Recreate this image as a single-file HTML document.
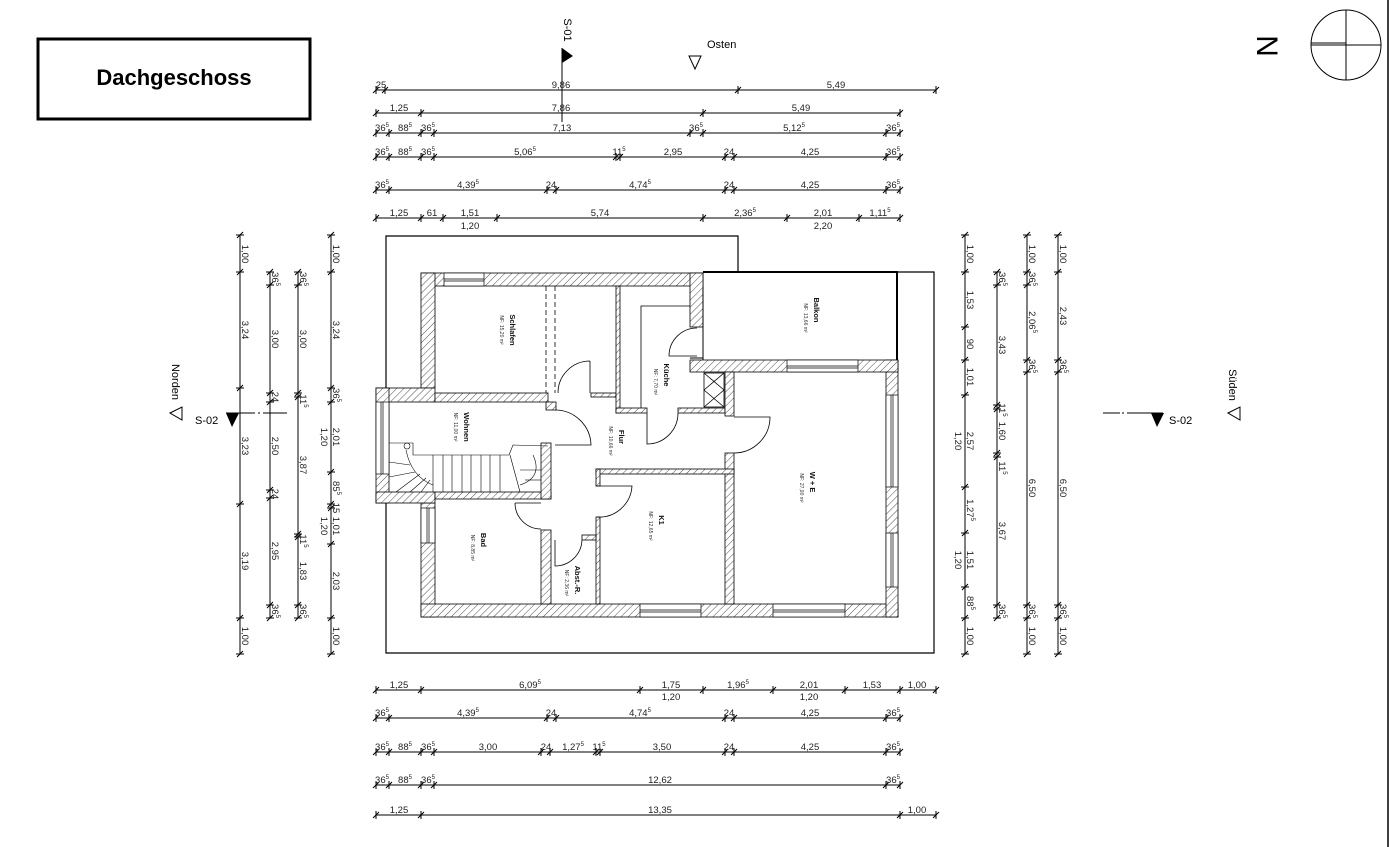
<!DOCTYPE html>
<html><head><meta charset="utf-8"><style>
html,body{margin:0;padding:0;background:#fff;}
svg{display:block;font-family:"Liberation Sans",Arial,sans-serif;}
.d{font-size:9.5px;fill:#222;text-anchor:middle;}
.s{font-size:6px;}
.rn{font-size:7.5px;font-weight:bold;fill:#111;text-anchor:middle;}
.nf{font-size:5px;fill:#333;text-anchor:middle;}
</style></head><body>
<svg width="1393" height="847" viewBox="0 0 1393 847" xmlns="http://www.w3.org/2000/svg">
<defs>
<pattern id="h" width="5" height="5" patternUnits="userSpaceOnUse" patternTransform="rotate(45)">
<rect width="5" height="5" fill="#fff"/><line x1="0" y1="0" x2="0" y2="5" stroke="#222" stroke-width="0.8"/></pattern>
<marker id="mh" markerUnits="userSpaceOnUse" markerWidth="10" markerHeight="10" refX="5" refY="5" orient="0" overflow="visible"><path d="M5,1V9M2,8L8,2" stroke="#000" stroke-width="1" fill="none"/></marker>
<marker id="mv" markerUnits="userSpaceOnUse" markerWidth="10" markerHeight="10" refX="5" refY="5" orient="0" overflow="visible"><path d="M1,5H9M2,8L8,2" stroke="#000" stroke-width="1" fill="none"/></marker>
</defs>
<rect width="1393" height="847" fill="#fff"/>
<line x1="1388" y1="0" x2="1388" y2="847" stroke="#000" stroke-width="1.5"/>

<!-- title -->
<rect x="38" y="39" width="272" height="80" fill="none" stroke="#000" stroke-width="3"/>
<text x="174" y="85" font-size="22" font-weight="bold" text-anchor="middle">Dachgeschoss</text>

<!-- north -->
<circle cx="1346" cy="45" r="35" fill="none" stroke="#000" stroke-width="1"/>
<line x1="1346" y1="10" x2="1346" y2="80" stroke="#000"/>
<line x1="1311" y1="45" x2="1381" y2="45" stroke="#000"/>
<line x1="1311" y1="43" x2="1346" y2="43" stroke="#000"/>
<text transform="translate(1268,46) rotate(90)" font-size="30" text-anchor="middle" y="11">N</text>

<!-- S-01 / Osten -->
<text transform="translate(568,30) rotate(90)" font-size="11" text-anchor="middle" y="4">S-01</text>
<line x1="562" y1="48" x2="562" y2="122" stroke="#000"/>
<polygon points="562,48 573,56 562,63" fill="#000"/>
<text x="707" y="48" font-size="11">Osten</text>
<polygon points="689,56 701,56 695,69" fill="none" stroke="#000"/>

<!-- Norden / S-02 left -->
<text transform="translate(176,382) rotate(90)" font-size="11" text-anchor="middle" y="4">Norden</text>
<polygon points="170,413 182,407 182,420" fill="none" stroke="#000"/>
<text x="195" y="424" font-size="11">S-02</text>
<polygon points="226,413 239,413 232,427" fill="#000"/>
<line x1="226" y1="413" x2="255" y2="413" stroke="#000"/>
<line x1="258" y1="413" x2="260" y2="413" stroke="#000"/>
<line x1="263" y1="413" x2="287" y2="413" stroke="#000"/>

<!-- Süden / S-02 right -->
<text transform="translate(1233,385) rotate(90)" font-size="11" text-anchor="middle" y="4">Süden</text>
<polygon points="1228,413 1240,407 1240,420" fill="none" stroke="#000"/>
<line x1="1103" y1="413" x2="1120" y2="413" stroke="#000"/>
<line x1="1122" y1="413" x2="1124" y2="413" stroke="#000"/>
<line x1="1127" y1="413" x2="1163" y2="413" stroke="#000"/>
<polygon points="1151,413 1164,413 1157,427" fill="#000"/>
<text x="1169" y="424" font-size="11">S-02</text>

<!-- roof outline -->
<polygon points="386,236 738,236 738,272 934,272 934,653 386,653" fill="none" stroke="#000" stroke-width="1.2"/>

<!-- walls -->
<g fill="url(#h)" stroke="#000" stroke-width="0.8">
<rect x="421" y="273" width="282" height="13"/>
<rect x="421" y="273" width="14" height="115"/>
<rect x="421" y="503" width="14" height="114"/>
<rect x="421" y="604" width="477" height="13"/>
<rect x="886" y="360" width="12" height="257"/>
<rect x="690" y="360" width="208" height="12"/>
<rect x="690" y="273" width="13" height="54"/>
<rect x="376" y="388" width="59" height="14"/>
<rect x="376" y="388" width="13" height="115"/>
<rect x="376" y="492" width="59" height="11"/>
<rect x="435" y="393" width="113" height="9"/>
<rect x="546" y="402" width="10" height="8"/>
<rect x="435" y="492" width="116" height="7"/>
<rect x="541" y="443" width="10" height="56"/>
<rect x="591" y="393" width="25" height="4"/>
<rect x="616" y="286" width="4" height="127"/>
<rect x="616" y="408" width="31" height="5"/>
<rect x="678" y="408" width="47" height="5"/>
<rect x="725" y="372" width="9" height="44"/>
<rect x="725" y="453" width="9" height="151"/>
<rect x="596" y="469" width="138" height="5"/>
<rect x="596" y="469" width="4" height="17"/>
<rect x="596" y="517" width="4" height="87"/>
<rect x="541" y="530" width="10" height="74"/>
<rect x="582" y="535" width="14" height="5"/>
</g>
<!-- windows -->
<g fill="#fff" stroke="#000" stroke-width="0.7">
<rect x="444" y="273" width="40" height="13"/><line x1="444" y1="279" x2="484" y2="279"/><line x1="444" y1="281" x2="484" y2="281"/>
<rect x="640" y="604" width="61" height="13"/><line x1="640" y1="610" x2="701" y2="610"/><line x1="640" y1="612" x2="701" y2="612"/>
<rect x="773" y="604" width="72" height="13"/><line x1="773" y1="610" x2="845" y2="610"/><line x1="773" y1="612" x2="845" y2="612"/>
<rect x="787" y="360" width="71" height="12"/><line x1="787" y1="366" x2="858" y2="366"/><line x1="787" y1="368" x2="858" y2="368"/>
<rect x="886" y="395" width="12" height="92"/><line x1="891" y1="395" x2="891" y2="487"/><line x1="893" y1="395" x2="893" y2="487"/>
<rect x="886" y="533" width="12" height="54"/><line x1="891" y1="533" x2="891" y2="587"/><line x1="893" y1="533" x2="893" y2="587"/>
<rect x="376" y="402" width="13" height="72"/><line x1="381" y1="402" x2="381" y2="474"/><line x1="383" y1="402" x2="383" y2="474"/>
<rect x="421" y="508" width="14" height="35"/><line x1="427" y1="508" x2="427" y2="543"/><line x1="429" y1="508" x2="429" y2="543"/>
</g>
<!-- balcony -->
<line x1="703" y1="272" x2="898" y2="272" stroke="#000" stroke-width="2"/>
<line x1="897" y1="272" x2="897" y2="360" stroke="#000" stroke-width="2"/>
<line x1="703" y1="286" x2="703" y2="360" stroke="#000"/>
<line x1="703" y1="358" x2="690" y2="358" stroke="#000"/>
<!-- schlafen dashed -->
<line x1="546" y1="286" x2="546" y2="393" stroke="#000" stroke-dasharray="5,3" stroke-width="0.8"/>
<line x1="555" y1="286" x2="555" y2="393" stroke="#000" stroke-dasharray="5,3" stroke-width="0.8"/>
<!-- küche inner -->
<polyline points="641,408 641,306 690,306" fill="none" stroke="#000" stroke-width="0.8"/>
<!-- chimney -->
<g stroke="#000" stroke-width="0.8" fill="none">
<rect x="704" y="373" width="20" height="34"/>
<line x1="704" y1="373" x2="724" y2="390"/><line x1="724" y1="373" x2="704" y2="390"/>
<line x1="704" y1="390" x2="724" y2="407"/><line x1="724" y1="390" x2="704" y2="407"/>
</g>
<!-- doors -->
<g stroke="#000" stroke-width="0.8" fill="none">
<path d="M590,361 L590,393 M590,361 A32,32 0 0 0 558,393"/>
<path d="M555,410 A36,36 0 0 1 591,445 L555,445"/>
<path d="M697,328 A28,28 0 0 0 669,356 L697,356"/>
<path d="M647,413 L647,444 A31,31 0 0 0 678,413"/>
<path d="M734,417 L770,417 A36,36 0 0 1 734,453"/>
<path d="M597,486 L632,486 A33,33 0 0 1 597,517"/>
<path d="M515,503 L541,503 M515,503 A26,26 0 0 0 541,529"/>
<path d="M555,540 L555,566 A27,27 0 0 0 582,540"/>
</g>
<!-- stairs -->
<g stroke="#000" stroke-width="0.6" fill="none">
<polyline points="389,443 413,443 413,455 433,455"/>
<polyline points="509,455 513,445 548,446"/>
<line x1="433" y1="455" x2="509" y2="455"/>
<line x1="433" y1="455" x2="433" y2="492"/>
<line x1="443" y1="455" x2="443" y2="492"/><line x1="452" y1="455" x2="452" y2="492"/>
<line x1="462" y1="455" x2="462" y2="492"/><line x1="471" y1="455" x2="471" y2="492"/>
<line x1="481" y1="455" x2="481" y2="492"/><line x1="490" y1="455" x2="490" y2="492"/>
<line x1="500" y1="455" x2="500" y2="492"/><line x1="510" y1="455" x2="520" y2="492"/>
<line x1="389" y1="462" x2="410" y2="465"/><line x1="389" y1="477" x2="415" y2="472"/>
<line x1="396" y1="492" x2="420" y2="474"/><line x1="410" y1="492" x2="426" y2="478"/>
<line x1="421" y1="492" x2="430" y2="480"/>
<line x1="520" y1="470" x2="541" y2="470"/><line x1="525" y1="480" x2="541" y2="480"/>
<path d="M406,450 C410,470 420,480 433,485"/>
<path d="M520,485 C535,480 540,470 533,455"/>
<circle cx="407" cy="446" r="3"/>
</g>

<!-- room labels -->
<g>
<text class="rn" transform="translate(510,330) rotate(90)">Schlafen</text>
<text class="nf" transform="translate(500,330) rotate(90)">NF: 15,20 m²</text>
<text class="rn" transform="translate(464,427) rotate(90)">Wohnen</text>
<text class="nf" transform="translate(454,427) rotate(90)">NF: 11,00 m²</text>
<text class="rn" transform="translate(619,437) rotate(90)">Flur</text>
<text class="nf" transform="translate(609,441) rotate(90)">NF: 10,66 m²</text>
<text class="rn" transform="translate(664,375) rotate(90)">Küche</text>
<text class="nf" transform="translate(654,382) rotate(90)">NF: 7,70 m²</text>
<text class="rn" transform="translate(814,310) rotate(90)">Balkon</text>
<text class="nf" transform="translate(804,318) rotate(90)">NF: 13,66 m²</text>
<text class="rn" transform="translate(810,482) rotate(90)">W + E</text>
<text class="nf" transform="translate(800,488) rotate(90)">NF: 27,90 m²</text>
<text class="rn" transform="translate(659,520) rotate(90)">K1</text>
<text class="nf" transform="translate(649,526) rotate(90)">NF: 12,65 m²</text>
<text class="rn" transform="translate(481,540) rotate(90)">Bad</text>
<text class="nf" transform="translate(471,548) rotate(90)">NF: 8,85 m²</text>
<text class="rn" transform="translate(575,580) rotate(90)">Abst.-R.</text>
<text class="nf" transform="translate(565,583) rotate(90)">NF: 2,36 m²</text>
</g>

<!-- horizontal dims -->
<g stroke="#000" stroke-width="1" fill="none" marker-start="url(#mh)" marker-mid="url(#mh)" marker-end="url(#mh)">
<polyline points="376,90 385,90 738,90 936,90"/>
<polyline points="376,113 421,113 703,113 900,113"/>
<polyline points="376,133 389,133 421,133 434,133 690,133 703,133 886,133 900,133"/>
<polyline points="376,157 389,157 421,157 434,157 616,157 620,157 725,157 734,157 886,157 900,157"/>
<polyline points="376,190 389,190 547,190 556,190 725,190 734,190 886,190 900,190"/>
<polyline points="376,218 421,218 443,218 497,218 703,218 787,218 859,218 900,218"/>
<polyline points="376,690 421,690 640,690 703,690 773,690 845,690 900,690 936,690"/>
<polyline points="376,718 389,718 547,718 556,718 725,718 734,718 886,718 900,718"/>
<polyline points="376,752 389,752 421,752 434,752 541,752 550,752 596,752 600,752 725,752 734,752 886,752 900,752"/>
<polyline points="376,785 389,785 421,785 434,785 886,785 900,785"/>
<polyline points="376,815 421,815 900,815 936,815"/>
</g>
<g class="d">
<text x="381" y="88" class="d">25</text><text x="561" y="88" class="d">9,86</text><text x="836" y="88" class="d">5,49</text>
<text x="399" y="111" class="d">1,25</text><text x="561" y="111" class="d">7,86</text><text x="801" y="111" class="d">5,49</text>
<text x="382" y="131" class="d">36<tspan class="s" dy="-4">5</tspan></text><text x="405" y="131" class="d">88<tspan class="s" dy="-4">5</tspan></text><text x="428" y="131" class="d">36<tspan class="s" dy="-4">5</tspan></text><text x="562" y="131" class="d">7,13</text><text x="696" y="131" class="d">36<tspan class="s" dy="-4">5</tspan></text><text x="794" y="131" class="d">5,12<tspan class="s" dy="-4">5</tspan></text><text x="893" y="131" class="d">36<tspan class="s" dy="-4">5</tspan></text>
<text x="382" y="155" class="d">36<tspan class="s" dy="-4">5</tspan></text><text x="405" y="155" class="d">88<tspan class="s" dy="-4">5</tspan></text><text x="428" y="155" class="d">36<tspan class="s" dy="-4">5</tspan></text><text x="525" y="155" class="d">5,06<tspan class="s" dy="-4">5</tspan></text><text x="619" y="155" class="d">11<tspan class="s" dy="-4">5</tspan></text><text x="673" y="155" class="d">2,95</text><text x="729" y="155" class="d">24</text><text x="810" y="155" class="d">4,25</text><text x="893" y="155" class="d">36<tspan class="s" dy="-4">5</tspan></text>
<text x="382" y="188" class="d">36<tspan class="s" dy="-4">5</tspan></text><text x="468" y="188" class="d">4,39<tspan class="s" dy="-4">5</tspan></text><text x="551" y="188" class="d">24</text><text x="640" y="188" class="d">4,74<tspan class="s" dy="-4">5</tspan></text><text x="729" y="188" class="d">24</text><text x="810" y="188" class="d">4,25</text><text x="893" y="188" class="d">36<tspan class="s" dy="-4">5</tspan></text>
<text x="399" y="216" class="d">1,25</text><text x="432" y="216" class="d">61</text><text x="470" y="216" class="d">1,51</text><text x="470" y="229" class="d">1,20</text><text x="600" y="216" class="d">5,74</text><text x="745" y="216" class="d">2,36<tspan class="s" dy="-4">5</tspan></text><text x="823" y="216" class="d">2,01</text><text x="823" y="229" class="d">2,20</text><text x="880" y="216" class="d">1,11<tspan class="s" dy="-4">5</tspan></text>
<text x="399" y="688" class="d">1,25</text><text x="530" y="688" class="d">6,09<tspan class="s" dy="-4">5</tspan></text><text x="671" y="688" class="d">1,75</text><text x="671" y="700" class="d">1,20</text><text x="738" y="688" class="d">1,96<tspan class="s" dy="-4">5</tspan></text><text x="809" y="688" class="d">2,01</text><text x="809" y="700" class="d">1,20</text><text x="872" y="688" class="d">1,53</text><text x="917" y="688" class="d">1,00</text>
<text x="382" y="716" class="d">36<tspan class="s" dy="-4">5</tspan></text><text x="468" y="716" class="d">4,39<tspan class="s" dy="-4">5</tspan></text><text x="551" y="716" class="d">24</text><text x="640" y="716" class="d">4,74<tspan class="s" dy="-4">5</tspan></text><text x="729" y="716" class="d">24</text><text x="810" y="716" class="d">4,25</text><text x="893" y="716" class="d">36<tspan class="s" dy="-4">5</tspan></text>
<text x="382" y="750" class="d">36<tspan class="s" dy="-4">5</tspan></text><text x="405" y="750" class="d">88<tspan class="s" dy="-4">5</tspan></text><text x="428" y="750" class="d">36<tspan class="s" dy="-4">5</tspan></text><text x="488" y="750" class="d">3,00</text><text x="546" y="750" class="d">24</text><text x="573" y="750" class="d">1,27<tspan class="s" dy="-4">5</tspan></text><text x="599" y="750" class="d">11<tspan class="s" dy="-4">5</tspan></text><text x="662" y="750" class="d">3,50</text><text x="729" y="750" class="d">24</text><text x="810" y="750" class="d">4,25</text><text x="893" y="750" class="d">36<tspan class="s" dy="-4">5</tspan></text>
<text x="382" y="783" class="d">36<tspan class="s" dy="-4">5</tspan></text><text x="405" y="783" class="d">88<tspan class="s" dy="-4">5</tspan></text><text x="428" y="783" class="d">36<tspan class="s" dy="-4">5</tspan></text><text x="660" y="783" class="d">12,62</text><text x="893" y="783" class="d">36<tspan class="s" dy="-4">5</tspan></text>
<text x="399" y="813" class="d">1,25</text><text x="660" y="813" class="d">13,35</text><text x="917" y="813" class="d">1,00</text>
</g>

<!-- vertical dims -->
<g stroke="#000" stroke-width="1" fill="none" marker-start="url(#mv)" marker-mid="url(#mv)" marker-end="url(#mv)">
<polyline points="240,235 240,272 240,388 240,504 240,618 240,654"/>
<polyline points="270,272 270,285 270,393 270,402 270,490 270,498 270,605 270,618"/>
<polyline points="298,272 298,285 298,393 298,397 298,534 298,537 298,605 298,618"/>
<polyline points="331,235 331,272 331,388 331,402 331,472 331,504 331,508 331,544 331,618 331,654"/>
<polyline points="965,235 965,272 965,327 965,360 965,395 965,487 965,533 965,587 965,618 965,654"/>
<polyline points="997,272 997,285 997,405 997,409 997,453 997,457 997,605 997,618"/>
<polyline points="1027,235 1027,272 1027,285 1027,360 1027,372 1027,605 1027,618 1027,654"/>
<polyline points="1058,235 1058,272 1058,360 1058,372 1058,605 1058,618 1058,654"/>
</g>
<g class="d">
<text transform="translate(242,254) rotate(90)">1,00</text>
<text transform="translate(242,330) rotate(90)">3,24</text>
<text transform="translate(242,446) rotate(90)">3,23</text>
<text transform="translate(242,561) rotate(90)">3,19</text>
<text transform="translate(242,636) rotate(90)">1,00</text>
<text transform="translate(272,279) rotate(90)">36<tspan class="s" dy="-4">5</tspan></text>
<text transform="translate(272,339) rotate(90)">3,00</text>
<text transform="translate(272,397) rotate(90)">24</text>
<text transform="translate(272,446) rotate(90)">2,50</text>
<text transform="translate(272,494) rotate(90)">24</text>
<text transform="translate(272,551) rotate(90)">2,95</text>
<text transform="translate(272,611) rotate(90)">36<tspan class="s" dy="-4">5</tspan></text>
<text transform="translate(300,279) rotate(90)">36<tspan class="s" dy="-4">5</tspan></text>
<text transform="translate(300,339) rotate(90)">3,00</text>
<text transform="translate(300,401) rotate(90)">11<tspan class="s" dy="-4">5</tspan></text>
<text transform="translate(300,465) rotate(90)">3,87</text>
<text transform="translate(300,541) rotate(90)">11<tspan class="s" dy="-4">5</tspan></text>
<text transform="translate(300,571) rotate(90)">1,83</text>
<text transform="translate(300,611) rotate(90)">36<tspan class="s" dy="-4">5</tspan></text>
<text transform="translate(333,254) rotate(90)">1,00</text>
<text transform="translate(333,330) rotate(90)">3,24</text>
<text transform="translate(333,395) rotate(90)">36<tspan class="s" dy="-4">5</tspan></text>
<text transform="translate(333,437) rotate(90)">2,01</text>
<text transform="translate(321,437) rotate(90)">1,20</text>
<text transform="translate(333,488) rotate(90)">85<tspan class="s" dy="-4">5</tspan></text>
<text transform="translate(333,508) rotate(90)">15</text>
<text transform="translate(333,526) rotate(90)">1,01</text>
<text transform="translate(321,526) rotate(90)">1,20</text>
<text transform="translate(333,581) rotate(90)">2,03</text>
<text transform="translate(333,636) rotate(90)">1,00</text>

<text transform="translate(967,254) rotate(90)">1,00</text>
<text transform="translate(967,300) rotate(90)">1,53</text>
<text transform="translate(967,344) rotate(90)">90</text>
<text transform="translate(967,377) rotate(90)">1,01</text>
<text transform="translate(967,441) rotate(90)">2,57</text>
<text transform="translate(955,441) rotate(90)">1,20</text>
<text transform="translate(967,510) rotate(90)">1,27<tspan class="s" dy="-4">5</tspan></text>
<text transform="translate(967,560) rotate(90)">1,51</text>
<text transform="translate(955,560) rotate(90)">1,20</text>
<text transform="translate(967,603) rotate(90)">88<tspan class="s" dy="-4">5</tspan></text>
<text transform="translate(967,636) rotate(90)">1,00</text>
<text transform="translate(999,279) rotate(90)">36<tspan class="s" dy="-4">5</tspan></text>
<text transform="translate(999,345) rotate(90)">3,43</text>
<text transform="translate(999,410) rotate(90)">11<tspan class="s" dy="-4">5</tspan></text>
<text transform="translate(999,431) rotate(90)">1,60</text>
<text transform="translate(999,468) rotate(90)">11<tspan class="s" dy="-4">5</tspan></text>
<text transform="translate(999,531) rotate(90)">3,67</text>
<text transform="translate(999,611) rotate(90)">36<tspan class="s" dy="-4">5</tspan></text>
<text transform="translate(1029,254) rotate(90)">1,00</text>
<text transform="translate(1029,279) rotate(90)">36<tspan class="s" dy="-4">5</tspan></text>
<text transform="translate(1029,322) rotate(90)">2,06<tspan class="s" dy="-4">5</tspan></text>
<text transform="translate(1029,366) rotate(90)">36<tspan class="s" dy="-4">5</tspan></text>
<text transform="translate(1029,488) rotate(90)">6,50</text>
<text transform="translate(1029,611) rotate(90)">36<tspan class="s" dy="-4">5</tspan></text>
<text transform="translate(1029,636) rotate(90)">1,00</text>
<text transform="translate(1060,254) rotate(90)">1,00</text>
<text transform="translate(1060,316) rotate(90)">2,43</text>
<text transform="translate(1060,366) rotate(90)">36<tspan class="s" dy="-4">5</tspan></text>
<text transform="translate(1060,488) rotate(90)">6,50</text>
<text transform="translate(1060,611) rotate(90)">36<tspan class="s" dy="-4">5</tspan></text>
<text transform="translate(1060,636) rotate(90)">1,00</text>
</g>
</svg>
</body></html>
